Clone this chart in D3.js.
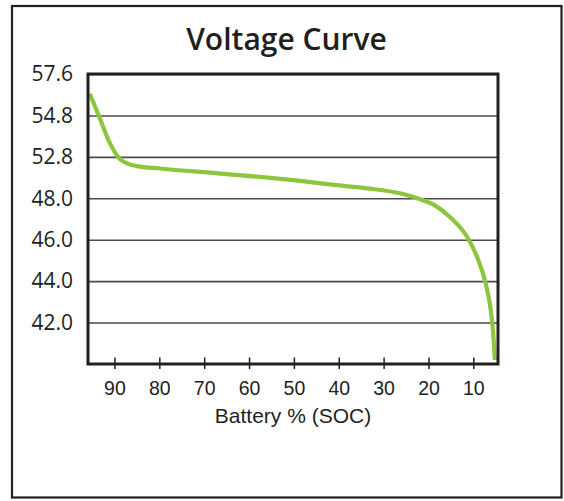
<!DOCTYPE html>
<html>
<head>
<meta charset="utf-8">
<script src="https://cdn.jsdelivr.net/npm/d3@7"></script>
<style>
  html, body { margin: 0; padding: 0; background: #fff; }
  svg { display: block; }
</style>
</head>
<body>
<svg id="chart" width="564" height="501"></svg>
<script>
// ---- data ----
const title = "Voltage Curve";
const xLabel = "Battery % (SOC)";
const xTickValues = [90, 80, 70, 60, 50, 40, 30, 20, 10];
const yTickValues = [42.0, 44.0, 46.0, 48.0, 52.8, 54.8, 57.6];
const yBreaks = [40.0, 42.0, 44.0, 46.0, 48.0, 52.8, 54.8, 57.6];
const soc = [95.5, 93.2, 91.0, 89.9, 88.7, 87.2, 85.0, 79.8, 66.4, 48.6, 41.1, 33.6, 26.1, 22.5, 18.75, 15.1, 11.35, 9.1, 7.23, 6.1, 5.5, 5.2];
const voltage = [56.27, 54.63, 53.45, 53.02, 52.53, 52.05, 51.73, 51.45, 50.86, 50.02, 49.55, 49.15, 48.55, 48.0, 47.68, 47.07, 46.13, 45.13, 43.87, 42.57, 41.29, 40.19];

// ---- layout ----
const svg = d3.select("#chart");
const plot = { left: 88, right: 498, top: 74, bottom: 364 };
const ink = "#231f20";

// outer frame
svg.append("rect")
  .attr("x", 12).attr("y", 6).attr("width", 549.5).attr("height", 491.5)
  .attr("fill", "none").attr("stroke", ink).attr("stroke-width", 2.2);

// title
svg.append("text")
  .attr("x", 286.5).attr("y", 50)
  .attr("text-anchor", "middle")
  .attr("font-family", "'Open Sans', sans-serif")
  .attr("font-weight", 600)
  .attr("font-size", 30)
  .attr("fill", ink)
  .text(title);

// scales
const x = d3.scaleLinear().domain([95.9, 4.5]).range([plot.left, plot.right]);
const n = yBreaks.length - 1;
const y = d3.scaleLinear()
  .domain(yBreaks)
  .range(yBreaks.map((d, i) => plot.bottom - (plot.bottom - plot.top) * i / n));

// gridlines
const grid = svg.append("g")
  .attr("transform", `translate(${plot.left},0)`)
  .call(d3.axisLeft(y).tickValues(yTickValues).tickSize(-(plot.right - plot.left)).tickFormat(""));
grid.select(".domain").remove();
grid.selectAll(".tick line").attr("stroke", "#4a4a4a").attr("stroke-width", 1.6);

// y labels
const yAxis = svg.append("g")
  .attr("transform", `translate(${plot.left},0)`)
  .call(d3.axisLeft(y).tickValues(yTickValues).tickSize(0).tickPadding(15).tickFormat(d => d.toFixed(1)));
yAxis.select(".domain").remove();
yAxis.selectAll("text")
  .attr("font-family", "'Open Sans', sans-serif")
  .attr("font-size", 21)
  .attr("fill", ink);

// x axis
const xAxis = svg.append("g")
  .attr("transform", `translate(0,${plot.bottom})`)
  .call(d3.axisBottom(x).tickValues(xTickValues).tickSize(5).tickPadding(12).tickFormat(d3.format("d")));
xAxis.select(".domain").remove();
xAxis.selectAll(".tick line").attr("y1", -6.5).attr("stroke", ink).attr("stroke-width", 1.5);
xAxis.selectAll("text")
  .attr("font-family", "'Liberation Sans', Arial, sans-serif")
  .attr("font-size", 19.5)
  .attr("fill", ink);

// x label
svg.append("text")
  .attr("x", (plot.left + plot.right) / 2).attr("y", 423)
  .attr("text-anchor", "middle")
  .attr("font-family", "'Liberation Sans', Arial, sans-serif")
  .attr("font-size", 21)
  .attr("fill", ink)
  .text(xLabel);

// curve
const pts = soc.map((s, i) => [s, voltage[i]]);
svg.append("path")
  .datum(pts)
  .attr("fill", "none")
  .attr("stroke", "#8cc63f")
  .attr("stroke-width", 4.2)
  .attr("d", d3.line().x(d => x(d[0])).y(d => y(d[1])).curve(d3.curveMonotoneX));

// plot frame
svg.append("rect")
  .attr("x", plot.left).attr("y", plot.top)
  .attr("width", plot.right - plot.left).attr("height", plot.bottom - plot.top)
  .attr("fill", "none").attr("stroke", ink).attr("stroke-width", 3);
</script>
</body>
</html>
